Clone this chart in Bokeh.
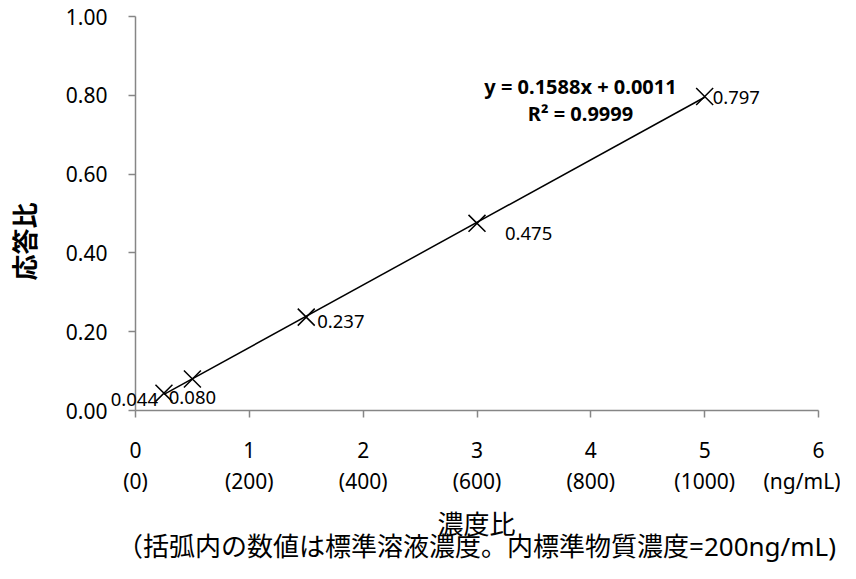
import math
from bokeh.plotting import figure
from bokeh.models import LinearAxis, FixedTicker, Label, Range1d
from bokeh.embed import file_html
from bokeh.resources import INLINE

# ---- data ----
conc_ratio = [0.25, 0.5, 1.5, 3.0, 5.0]
resp_ratio = [0.044, 0.080, 0.237, 0.475, 0.797]
resp_labels = ["0.044", "0.080", "0.237", "0.475", "0.797"]
slope = 0.1588
intercept = 0.0011
eq_text = "y = 0.1588x + 0.0011"
r2_text = "R² = 0.9999"
x_ticks = [0, 1, 2, 3, 4, 5, 6]
x_tick_labels = ["0", "1", "2", "3", "4", "5", "6"]
x_tick_labels2 = ["(0)", "(200)", "(400)", "(600)", "(800)", "(1000)", "(ng/mL)"]
y_ticks = [0.0, 0.2, 0.4, 0.6, 0.8, 1.0]
x_title = "濃度比"
y_title = "応答比"
note = "（括弧内の数値は標準溶液濃度。内標準物質濃度=200ng/mL)"

# ---- layout (canvas pixels) ----
W, H = 840, 563
X0_PX, X6_PX = 135, 818      # where x=0 and x=6 fall
Y0_PX, Y1_PX = 410, 16       # where y=0 and y=1 fall (from top)
ux = (X6_PX - X0_PX) / 6.0
uy = (Y0_PX - Y1_PX) / 1.0
xr = Range1d(-X0_PX / ux, 6 + (W - X6_PX) / ux)
yr = Range1d(-(H - Y0_PX) / uy, 1 + Y1_PX / uy)

def px_to_x(px):
    return (px - X0_PX) / ux

def py_to_y(py):
    return (Y0_PX - py) / uy

LAT = "Noto Sans"
CJK = "Noto Sans CJK JP"
MIX = "Noto Sans, Noto Sans CJK JP"
AX = "#868686"

p = figure(width=W, height=H, output_backend="svg", toolbar_location=None,
           x_range=xr, y_range=yr,
           min_border_left=0, min_border_right=0, min_border_top=0,
           min_border_bottom=0, x_axis_location=None, y_axis_location=None)
p.outline_line_color = None
p.xgrid.visible = False
p.ygrid.visible = False
p.background_fill_color = "white"
p.border_fill_color = "white"

# y axis
ya = LinearAxis(ticker=FixedTicker(ticks=y_ticks), fixed_location=0, bounds=(0, 1))
ya.major_label_overrides = {t: f"{t:.2f}" for t in y_ticks}
ya.axis_line_color = AX
ya.major_tick_line_color = AX
ya.axis_line_width = 1.5
ya.major_tick_line_width = 1.5
ya.major_tick_in = 0
ya.major_tick_out = 7
ya.minor_tick_line_color = None
ya.major_label_text_font = LAT
ya.major_label_text_font_size = "21px"
ya.major_label_text_color = "black"
ya.major_label_standoff = 21
p.add_layout(ya, "left")

# x axis row 1
xa = LinearAxis(ticker=FixedTicker(ticks=x_ticks), fixed_location=0, bounds=(0, 6))
xa.major_label_overrides = dict(zip(x_ticks, x_tick_labels))
xa.axis_line_color = AX
xa.major_tick_line_color = AX
xa.axis_line_width = 1.5
xa.major_tick_line_width = 1.5
xa.major_tick_in = 0
xa.major_tick_out = 7
xa.minor_tick_line_color = None
xa.major_label_text_font = LAT
xa.major_label_text_font_size = "21px"
xa.major_label_text_color = "black"
xa.major_label_standoff = 24
p.add_layout(xa, "below")

# x axis row 2 (standard-solution concentrations)
xb = LinearAxis(ticker=FixedTicker(ticks=x_ticks), fixed_location=0, bounds=(0, 6))
xb.major_label_overrides = dict(zip(x_ticks, x_tick_labels2))
xb.axis_line_color = None
xb.major_tick_line_color = None
xb.minor_tick_line_color = None
xb.major_tick_in = 0
xb.major_tick_out = 0
xb.major_label_text_font = LAT
xb.major_label_text_font_size = "21px"
xb.major_label_text_color = "black"
xb.major_label_standoff = 56
p.add_layout(xb, "below")

# axis titles and note
p.add_layout(Label(x=px_to_x(23), y=py_to_y(241), text=y_title, angle=math.pi / 2,
                   text_align="center", text_baseline="middle",
                   text_font=CJK, text_font_size="26px", text_font_style="bold",
                   text_color="black"))
p.add_layout(Label(x=px_to_x(476), y=py_to_y(522), text=x_title,
                   text_align="center", text_baseline="middle",
                   text_font=CJK, text_font_size="26px", text_color="black"))
p.add_layout(Label(x=px_to_x(476), y=py_to_y(545), text=note,
                   text_align="center", text_baseline="middle",
                   text_font=MIX, text_font_size="26px", text_color="black"))

# trendline
xs = [min(conc_ratio), max(conc_ratio)]
ys = [slope * v + intercept for v in xs]
p.line(xs, ys, line_color="black", line_width=1.5)

# markers
p.scatter(conc_ratio, resp_ratio, marker="x", size=24, line_color="black", line_width=1.5)

# data labels
offs = [(-6, -6, "right"), (0, -19, "center"), (11, -4, "left"), (28, -10, "left"), (8, -1, "left")]
for xv, yv, txt, (dx, dy, al) in zip(conc_ratio, resp_ratio, resp_labels, offs):
    p.add_layout(Label(x=xv, y=yv, text=txt, x_offset=dx, y_offset=dy,
                       text_align=al, text_baseline="middle",
                       text_font=LAT, text_font_size="18.5px", text_color="black"))

# equation
p.add_layout(Label(x=px_to_x(580), y=py_to_y(86), text=eq_text, text_align="center",
                   text_baseline="middle", text_font=LAT, text_font_size="20px",
                   text_font_style="bold", text_color="black"))
p.add_layout(Label(x=px_to_x(580), y=py_to_y(113), text=r2_text, text_align="center",
                   text_baseline="middle", text_font=LAT, text_font_size="20px",
                   text_font_style="bold", text_color="black"))

open("out.html", "w").write(file_html(p, INLINE))
